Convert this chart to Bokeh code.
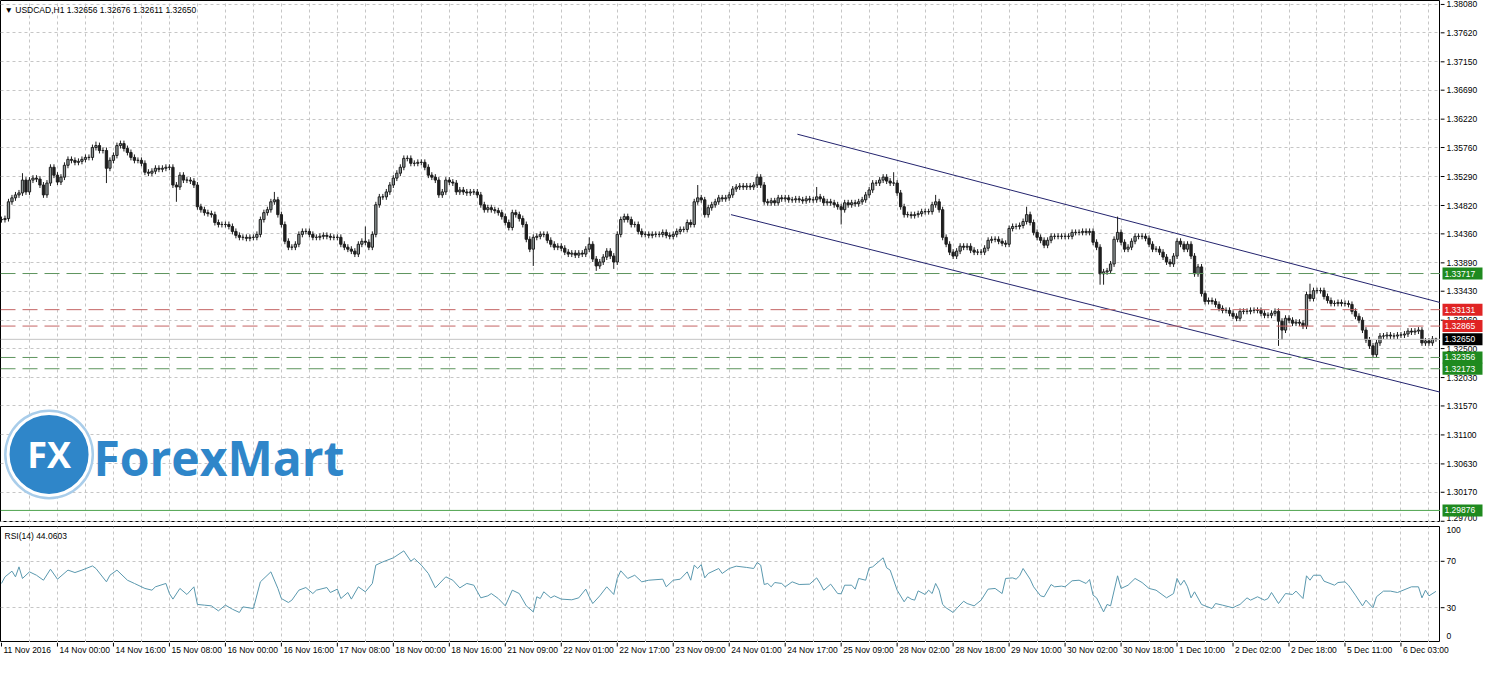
from bokeh.plotting import figure
from bokeh.layouts import column, row
from bokeh.models import Range1d, FixedTicker, Span, Label, ColumnDataSource
from bokeh.embed import file_html
from bokeh.resources import INLINE
from bokeh.core.properties import value

# ---------------- data ----------------
symbol_header = "\u25bc USDCAD,H1  1.32656 1.32676 1.32611 1.32650"
rsi_header = "RSI(14) 44.0603"

first_open = 1.34590
closes = [
    1.34592, 1.34608, 1.34880, 1.34944, 1.34992, 1.35024, 1.35232, 1.35040, 1.35232, 1.35264,
    1.35248, 1.35152, 1.34992, 1.35184, 1.35440, 1.35312, 1.35200, 1.35280, 1.35472, 1.35568,
    1.35552, 1.35520, 1.35536, 1.35568, 1.35600, 1.35600, 1.35760, 1.35792, 1.35712, 1.35712,
    1.35424, 1.35552, 1.35632, 1.35792, 1.35824, 1.35744, 1.35680, 1.35600, 1.35552, 1.35552,
    1.35504, 1.35360, 1.35344, 1.35376, 1.35424, 1.35408, 1.35424, 1.35440, 1.35440, 1.35152,
    1.35120, 1.35312, 1.35232, 1.35232, 1.35216, 1.35152, 1.34800, 1.34752, 1.34704, 1.34688,
    1.34672, 1.34544, 1.34512, 1.34512, 1.34512, 1.34480, 1.34400, 1.34336, 1.34304, 1.34304,
    1.34288, 1.34304, 1.34304, 1.34352, 1.34592, 1.34704, 1.34752, 1.34880, 1.34912, 1.34672,
    1.34512, 1.34240, 1.34144, 1.34144, 1.34192, 1.34352, 1.34400, 1.34400, 1.34352, 1.34304,
    1.34304, 1.34320, 1.34336, 1.34320, 1.34304, 1.34304, 1.34304, 1.34192, 1.34144, 1.34112,
    1.34080, 1.34032, 1.34192, 1.34240, 1.34224, 1.34144, 1.34352, 1.34832, 1.34960, 1.34960,
    1.35040, 1.35152, 1.35264, 1.35344, 1.35440, 1.35584, 1.35584, 1.35504, 1.35504, 1.35520,
    1.35520, 1.35440, 1.35312, 1.35280, 1.35232, 1.34992, 1.35040, 1.35232, 1.35200, 1.35184,
    1.35040, 1.35072, 1.35040, 1.35024, 1.35040, 1.35040, 1.34992, 1.34832, 1.34752, 1.34784,
    1.34752, 1.34736, 1.34704, 1.34640, 1.34544, 1.34464, 1.34704, 1.34672, 1.34608, 1.34512,
    1.34272, 1.34112, 1.34304, 1.34320, 1.34352, 1.34352, 1.34256, 1.34192, 1.34144, 1.34160,
    1.34128, 1.34064, 1.34032, 1.34048, 1.34016, 1.34048, 1.34032, 1.34112, 1.34192, 1.33952,
    1.33840, 1.33904, 1.33984, 1.34080, 1.34000, 1.33904, 1.34352, 1.34592, 1.34640, 1.34592,
    1.34512, 1.34512, 1.34400, 1.34352, 1.34352, 1.34336, 1.34352, 1.34352, 1.34352, 1.34384,
    1.34336, 1.34320, 1.34352, 1.34400, 1.34432, 1.34432, 1.34544, 1.34512, 1.34880, 1.34944,
    1.34912, 1.34672, 1.34784, 1.34832, 1.34880, 1.34944, 1.34928, 1.34944, 1.34992, 1.35088,
    1.35120, 1.35136, 1.35120, 1.35136, 1.35120, 1.35152, 1.35280, 1.35152, 1.34880, 1.34864,
    1.34896, 1.34864, 1.34944, 1.34928, 1.34944, 1.34912, 1.34912, 1.34928, 1.34912, 1.34896,
    1.34928, 1.34912, 1.34912, 1.34960, 1.34928, 1.34864, 1.34880, 1.34864, 1.34832, 1.34800,
    1.34752, 1.34864, 1.34832, 1.34864, 1.34848, 1.34880, 1.34912, 1.34992, 1.35072, 1.35184,
    1.35184, 1.35232, 1.35280, 1.35216, 1.35184, 1.35184, 1.35024, 1.34800, 1.34672, 1.34672,
    1.34656, 1.34672, 1.34688, 1.34720, 1.34720, 1.34720, 1.34832, 1.34880, 1.34752, 1.34304,
    1.34192, 1.34064, 1.34000, 1.34080, 1.34160, 1.34144, 1.34160, 1.34096, 1.34064, 1.34064,
    1.34064, 1.34128, 1.34256, 1.34272, 1.34272, 1.34240, 1.34208, 1.34192, 1.34448, 1.34480,
    1.34480, 1.34496, 1.34560, 1.34672, 1.34544, 1.34384, 1.34304, 1.34256, 1.34176, 1.34256,
    1.34320, 1.34320, 1.34320, 1.34320, 1.34320, 1.34320, 1.34384, 1.34384, 1.34384, 1.34400,
    1.34384, 1.34400, 1.34224, 1.34144, 1.33712, 1.33744, 1.33760, 1.33872, 1.34272, 1.34384,
    1.34224, 1.34112, 1.34144, 1.34240, 1.34320, 1.34320, 1.34320, 1.34288, 1.34192, 1.34112,
    1.34112, 1.34064, 1.33984, 1.33904, 1.33872, 1.34000, 1.34240, 1.34192, 1.34112, 1.34192,
    1.34000, 1.33712, 1.33824, 1.33392, 1.33264, 1.33280, 1.33264, 1.33216, 1.33152, 1.33120,
    1.33120, 1.33072, 1.33024, 1.32992, 1.33104, 1.33104, 1.33104, 1.33120, 1.33120, 1.33120,
    1.33072, 1.33040, 1.33040, 1.33072, 1.33104, 1.32944, 1.32800, 1.32992, 1.32960, 1.32912,
    1.32928, 1.32912, 1.32864, 1.33376, 1.33312, 1.33440, 1.33440, 1.33440, 1.33344, 1.33280,
    1.33232, 1.33232, 1.33248, 1.33232, 1.33232, 1.33216, 1.33104, 1.33024, 1.32960, 1.32800,
    1.32640, 1.32544, 1.32400, 1.32592, 1.32704, 1.32704, 1.32720, 1.32704, 1.32704, 1.32720,
    1.32720, 1.32736, 1.32784, 1.32768, 1.32784, 1.32800, 1.32592, 1.32624, 1.32592, 1.32656,
    1.32650,
]
# long wicks visible in the picture (bar index -> price)
high_marks = {6: 1.35344, 27: 1.35856, 34: 1.35872, 78: 1.35040, 104: 1.34480, 168: 1.34304,
              199: 1.35152, 216: 1.35328, 233: 1.35120, 255: 1.35360, 267: 1.34992, 293: 1.34800,
              319: 1.34640, 374: 1.33552, 410: 1.32676}
low_marks = {30: 1.35184, 50: 1.34880, 101: 1.33984, 152: 1.33840, 170: 1.33760, 175: 1.33792,
             240: 1.34512, 314: 1.33536, 315: 1.33536, 365: 1.32544, 366: 1.32640, 392: 1.32352,
             410: 1.32611}
short_wick = 0.00048

price_ticks = [1.38080, 1.37620, 1.37150, 1.36690, 1.36220, 1.35760, 1.35290, 1.34820, 1.34360,
               1.33890, 1.33430, 1.32960, 1.32500, 1.32030, 1.31570, 1.31100, 1.30630, 1.30170, 1.29700]

green_dashed_levels = [1.33717, 1.32356, 1.32173]
red_dashed_levels = [1.33131, 1.32865]
green_solid_level = 1.29876
bid_level = 1.32650
tag_levels = [1.33717, 1.33131, 1.32865, 1.32650, 1.32356, 1.32173, 1.29876]
tag_colors = ["#1f8a1f", "#e02424", "#e02424", "#000000", "#1f8a1f", "#1f8a1f", "#1f8a1f"]

upper_channel_bars = [227.5, 411.3]
upper_channel_prices = [1.35976, 1.33245]
lower_channel_bars = [208.5, 411.3]
lower_channel_prices = [1.34672, 1.31792]

time_label_bars = list(range(0, 401, 16))
time_labels = ["11 Nov 2016", "14 Nov 00:00", "14 Nov 16:00", "15 Nov 08:00", "16 Nov 00:00",
               "16 Nov 16:00", "17 Nov 08:00", "18 Nov 00:00", "18 Nov 16:00", "21 Nov 09:00",
               "22 Nov 01:00", "22 Nov 17:00", "23 Nov 09:00", "24 Nov 01:00", "24 Nov 17:00",
               "25 Nov 09:00", "28 Nov 02:00", "28 Nov 18:00", "29 Nov 10:00", "30 Nov 02:00",
               "30 Nov 18:00", "1 Dec 10:00", "2 Dec 02:00", "2 Dec 18:00", "5 Dec 11:00",
               "6 Dec 03:00"]

rsi_bars = [0, 1, 3, 4, 5, 6, 8, 10, 12, 14, 16, 19, 21, 23, 26, 27, 30, 31, 33, 36, 38, 41, 43, 44,
            47, 48, 49, 51, 53, 55, 56, 58, 60, 62, 64, 66, 68, 69, 72, 74, 77, 79, 80, 82, 83, 85,
            87, 89, 90, 93, 94, 96, 97, 99, 100, 102, 104, 106, 107, 109, 112, 115, 117, 118, 120,
            122, 124, 127, 129, 131, 133, 135, 137, 139, 140,
            142, 144, 146, 148, 150, 152, 153, 154, 155, 157, 158, 160, 163, 165, 167, 168, 169, 171,
            173, 175, 176, 177, 179, 181, 183, 185, 189, 190, 192, 194, 196, 197, 198, 199, 200, 201,
            202, 205, 206, 208, 210, 213, 215, 216, 217, 218, 219, 220, 221, 223, 224, 226, 228, 231,
            233, 234, 235, 237, 239, 240, 241, 243, 244, 245, 247, 248, 249, 252, 253, 254, 256, 258,
            259, 260, 261, 262, 264, 265, 266, 267, 268, 269, 270, 272, 273, 275, 276, 278, 280, 282,
            284, 286, 287, 289, 290, 291, 292, 294, 295, 297, 298, 300, 301, 303, 304, 306, 308, 310,
            311, 312, 313, 315, 316, 317, 319, 320, 322, 324, 326, 328, 330, 333, 335, 336, 337, 338,
            339, 340, 341, 343, 344, 346, 347, 349, 352, 353, 354, 356, 357, 359, 361, 362, 363, 365,
            367, 369, 370, 372, 373, 374, 375, 377, 378, 381, 382, 384, 385, 387, 389, 390, 392, 393,
            395, 397, 399, 400, 403, 405, 406, 407, 408, 410]
rsi_vals = [50.9, 56.6, 61.5, 56.6, 65.2, 55.2, 60.9, 58.0, 53.7, 63.2, 54.6, 62.4, 60.3, 62.4, 66.0,
            63.8, 52.3, 58.0, 62.4, 53.7, 50.9, 46.6, 45.1, 48.0, 50.9, 42.2, 37.4, 46.6, 41.4, 48.0,
            32.8, 32.2, 31.6, 27.3, 32.2, 28.7, 25.9, 30.7, 29.3, 52.3, 60.9, 46.6, 37.9, 34.5, 36.5,
            45.1, 47.4, 42.2, 45.1, 47.4, 43.1, 46.0, 37.9, 43.1, 37.4, 48.0, 43.7, 50.9, 66.7, 69.5,
            73.0, 79.0, 70.1, 72.4, 66.7, 59.5, 47.1, 56.6, 53.7, 47.1, 50.9, 49.4, 38.5, 40.2, 42.2,
            37.9, 31.6, 45.1, 42.2, 31.6, 26.4, 39.4, 37.9, 43.7, 38.5, 40.2, 37.4, 36.8, 38.5, 46.0,
            39.4, 33.6, 40.2, 48.0, 41.4, 55.2, 61.8, 55.2, 58.0, 52.3, 53.7, 54.6, 48.0, 53.7, 54.6,
            60.9, 53.7, 66.7, 63.8, 67.2, 55.7, 59.5, 63.8, 59.5, 63.8, 65.8, 64.7, 63.8, 69.0, 66.7,
            50.0, 50.9, 48.0, 51.7, 50.9, 48.0, 52.3, 50.0, 50.3, 55.7, 50.9, 45.1, 50.3, 42.2, 42.0,
            49.4, 49.4, 46.0, 55.2, 53.7, 64.4, 65.2, 73.0, 64.4, 62.4, 45.1, 35.1, 39.4, 37.4, 36.5,
            44.5, 41.4, 45.1, 42.2, 50.9, 45.1, 32.8, 29.9, 25.9, 29.3, 35.6, 33.6, 31.6, 36.5, 46.0,
            46.6, 42.2, 55.2, 55.7, 54.6, 57.5, 63.8, 54.6, 48.0, 40.2, 39.4, 50.0, 48.0, 48.6, 48.0,
            53.2, 53.7, 50.9, 54.3, 40.8, 38.5, 26.4, 32.8, 31.6, 57.5, 46.6, 49.4, 55.2, 51.7, 46.6,
            45.1, 38.5, 42.2, 55.2, 49.4, 53.7, 48.0, 38.5, 43.7, 32.8, 31.6, 29.3, 33.6, 32.2, 29.9,
            31.6, 32.8, 38.5, 36.5, 39.4, 36.5, 37.9, 43.1, 33.6, 42.2, 41.4, 44.3, 37.9, 57.5, 53.7,
            58.0, 58.0, 52.9, 49.4, 51.7, 52.3, 49.4, 40.8, 31.6, 36.5, 29.9, 39.4, 44.3, 44.3, 43.1,
            44.3, 48.0, 48.0, 38.5, 45.1, 40.2, 44.06]
rsi_tick_values = [70, 30]
rsi_scale_labels = ["100", "70", "30", "0"]
rsi_scale_label_pos = [96.8, 70, 30, 5.2]

# ---------------- candles ----------------
n = len(closes)
bars = list(range(n))
opens = [first_open] + closes[:-1]
highs = [high_marks.get(i, max(opens[i], closes[i]) + short_wick) for i in bars]
lows = [low_marks.get(i, min(opens[i], closes[i]) - short_wick) for i in bars]
tops = [max(o, c) for o, c in zip(opens, closes)]
bottoms = [min(o, c) for o, c in zip(opens, closes)]
fills = ["#8f9797" if c >= o else "#1e1e1e" for o, c in zip(opens, closes)]
src = ColumnDataSource(dict(x=bars, high=highs, low=lows, top=tops, bottom=bottoms, fill=fills))

FONT = "Liberation Sans"
FS = "8.5px"
FRAME_W = 1440
SCALE_W = 44
GRID = "#c6c6c6"
X0, X1 = -0.28, 411.3
x_range = Range1d(X0, X1)
# the time scale runs under the price scale too, with the same bars-per-pixel
time_range = Range1d(X0, X1 + SCALE_W * (X1 - X0) / FRAME_W)
y_range = Range1d(1.2968, 1.38144)


def base_fig(**kw):
    f = figure(toolbar_location=None, output_backend="svg", x_axis_location=None,
               y_axis_location=None, min_border=0, background_fill_color="white",
               border_fill_color="white", **kw)
    f.grid.visible = False
    return f


# ---------------- main price panel ----------------
p1 = figure(frame_width=FRAME_W, frame_height=522, x_range=x_range, y_range=y_range,
            y_axis_location=None, x_axis_location=None, toolbar_location=None,
            output_backend="svg", min_border=0, outline_line_color="black",
            background_fill_color="white", border_fill_color="white")
p1.xgrid.ticker = FixedTicker(ticks=list(range(8, 412, 8)))
p1.ygrid.ticker = FixedTicker(ticks=price_ticks)
p1.xgrid.visible = True
p1.ygrid.visible = True
p1.grid.grid_line_color = GRID
p1.grid.grid_line_dash = "3 3"

# logo (decoration)
p1.scatter(x=[13.6], y=[1.30784], size=90, marker="circle", fill_color="#a9cdea",
           line_color=None)
p1.scatter(x=[13.6], y=[1.30784], size=82, marker="circle", fill_color="#2f86c9",
           line_color="white", line_width=3)
p1.text(x=[13.6], y=[1.30784], text=["FX"], text_align="center", text_baseline="middle",
        text_color="white", text_font_size="36px", text_font_style="bold",
        text_font=value("Open Sans"))
p1.text(x=[26.3], y=[1.30736], text=["ForexMart"], text_align="left", text_baseline="middle",
        text_color="#2f86c9", text_font_size="48px", text_font_style="bold",
        text_font=value("Open Sans"))

# levels
for lv in green_dashed_levels:
    p1.add_layout(Span(location=lv, dimension="width", line_color="#5e955e", line_dash="15 7", line_width=1))
for lv in red_dashed_levels:
    p1.add_layout(Span(location=lv, dimension="width", line_color="#c46464", line_dash="15 7", line_width=1))
p1.add_layout(Span(location=green_solid_level, dimension="width", line_color="#4ea34e", line_width=1))
p1.add_layout(Span(location=bid_level, dimension="width", line_color="#c4c4c4", line_width=1))

# channel
p1.line(upper_channel_bars, upper_channel_prices, line_color="#24246e", line_width=1)
p1.line(lower_channel_bars, lower_channel_prices, line_color="#24246e", line_width=1)

# candles
p1.segment(x0="x", y0="low", x1="x", y1="high", source=src, line_color="#1e1e1e", line_width=1)
p1.vbar(x="x", width=0.66, top="top", bottom="bottom", source=src, fill_color="fill",
        line_color="#1e1e1e", line_width=1)

p1.add_layout(Label(x=X0, y=1.38144, x_offset=4, y_offset=-4, text=symbol_header,
                    text_baseline="top", text_align="left", text_font=FONT, text_font_size=FS,
                    text_color="black"))

# price scale (right side), drawn through the shared price range
s1 = base_fig(frame_width=SCALE_W, frame_height=522, x_range=Range1d(0, SCALE_W), y_range=y_range,
              outline_line_color=None)
tick_src = ColumnDataSource(dict(y=price_ticks, t=["%.5f" % v for v in price_ticks],
                                 b=["middle"] * (len(price_ticks) - 1) + ["bottom"]))
s1.segment(x0=0, x1=4, y0="y", y1="y", source=tick_src, line_color="black", line_width=1)
s1.text(x=6, y="y", text="t", text_baseline="b", text_align="left", source=tick_src,
        text_font=value(FONT), text_font_size=FS, text_color="black")
tag_src = ColumnDataSource(dict(y=tag_levels, t=["%.5f" % v for v in tag_levels], c=tag_colors))
s1.rect(x=22, y="y", width=40, height=12, height_units="screen", source=tag_src,
        fill_color="c", line_color=None)
s1.text(x=4, y="y", text="t", text_baseline="middle", text_align="left", source=tag_src,
        text_font=value(FONT), text_font_size=FS, text_color="white")

# gray separator band
band = base_fig(frame_width=FRAME_W, frame_height=4, x_range=x_range,
                outline_line_color=None)
band.background_fill_color = "#8a8a8a"
band.segment(x0=[X0], x1=[X1], y0=[0], y1=[0], line_color="#8a8a8a", line_width=1)

# ---------------- RSI panel ----------------
rsi_range = Range1d(0, 100)
p2 = figure(frame_width=FRAME_W, frame_height=116, x_range=x_range, y_range=rsi_range,
            y_axis_location=None, x_axis_location=None, toolbar_location=None,
            output_backend="svg", min_border=0, outline_line_color="black",
            background_fill_color="white", border_fill_color="white")
p2.xgrid.ticker = FixedTicker(ticks=list(range(8, 412, 8)))
p2.ygrid.ticker = FixedTicker(ticks=rsi_tick_values)
p2.xgrid.visible = True
p2.ygrid.visible = True
p2.grid.grid_line_color = GRID
p2.grid.grid_line_dash = "3 3"
p2.line(rsi_bars, rsi_vals, line_color="#5a98ae", line_width=1)
p2.add_layout(Label(x=X0, y=100, x_offset=4, y_offset=-4, text=rsi_header, text_baseline="top",
                    text_align="left", text_font=FONT, text_font_size=FS, text_color="black"))

s2 = base_fig(frame_width=SCALE_W, frame_height=116, x_range=Range1d(0, SCALE_W), y_range=rsi_range,
              outline_line_color=None)
s2.segment(x0=0, x1=4, y0=rsi_tick_values, y1=rsi_tick_values, line_color="black", line_width=1)
s2.text(x=6, y=rsi_scale_label_pos, text=rsi_scale_labels, text_baseline="middle",
        text_align="left", text_font=value(FONT), text_font_size=FS, text_color="black")

# ---------------- time scale (below), drawn through the shared bar scale ----------------
t = base_fig(frame_width=FRAME_W + SCALE_W, frame_height=16, x_range=time_range,
             y_range=Range1d(0, 16), outline_line_color=None)
time_src = ColumnDataSource(dict(x=time_label_bars, t=time_labels))
t.segment(x0="x", x1="x", y0=16, y1=12, source=time_src, line_color="black", line_width=1)
t.text(x="x", y=13.5, text="t", text_baseline="top", text_align="left", x_offset=2,
       source=time_src, text_font=value(FONT), text_font_size=FS, text_color="black")

layout = column(row(p1, s1, spacing=0), band, row(p2, s2, spacing=0), t, spacing=0)
open("out.html", "w").write(file_html(layout, INLINE))
